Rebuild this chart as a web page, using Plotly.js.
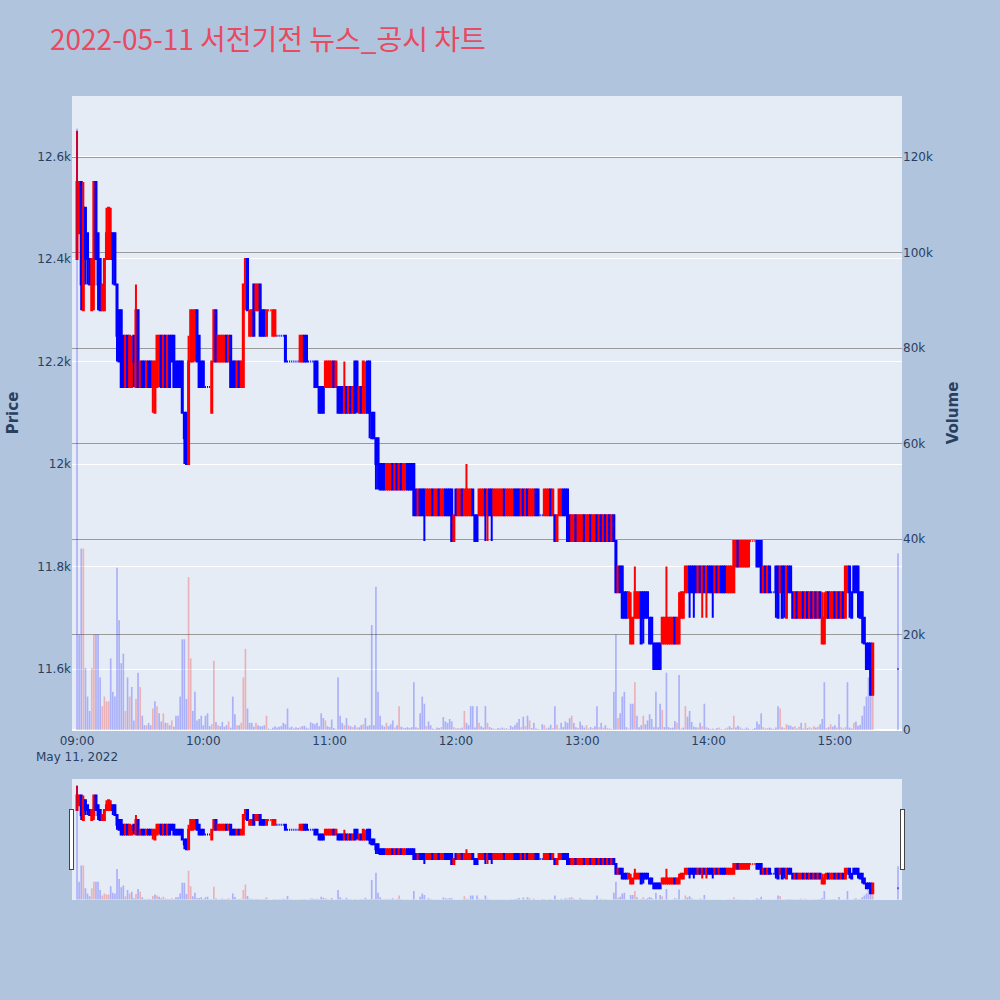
<!DOCTYPE html>
<html>
<head>
<meta charset="utf-8">
<script src="https://cdn.plot.ly/plotly-3.0.1.min.js"></script>
<style>
  html, body { margin: 0; padding: 0; background: #B0C4DE; }
  #chart { width: 1000px; height: 1000px; }
</style>
</head>
<body>
<div id="chart"></div>
<script>
// 1-minute bars for 2022-05-11, plus the 15:30 closing auction
const tradeDate = '2022-05-11';

const minutes = [
  '09:00','09:01','09:02','09:03','09:04','09:05','09:06','09:07','09:08','09:09',
  '09:10','09:11','09:12','09:13','09:14','09:15','09:16','09:17','09:18','09:19',
  '09:20','09:21','09:22','09:23','09:24','09:25','09:26','09:27','09:28','09:29',
  '09:30','09:31','09:32','09:33','09:34','09:35','09:36','09:37','09:38','09:39',
  '09:40','09:41','09:42','09:43','09:44','09:45','09:46','09:47','09:48','09:49',
  '09:50','09:51','09:52','09:53','09:54','09:55','09:56','09:57','09:58','09:59',
  '10:00','10:01','10:02','10:03','10:04','10:05','10:06','10:07','10:08','10:09',
  '10:10','10:11','10:12','10:13','10:14','10:15','10:16','10:17','10:18','10:19',
  '10:20','10:21','10:22','10:23','10:24','10:25','10:26','10:27','10:28','10:29',
  '10:30','10:31','10:32','10:33','10:34','10:35','10:36','10:37','10:38','10:39',
  '10:40','10:41','10:42','10:43','10:44','10:45','10:46','10:47','10:48','10:49',
  '10:50','10:51','10:52','10:53','10:54','10:55','10:56','10:57','10:58','10:59',
  '11:00','11:01','11:02','11:03','11:04','11:05','11:06','11:07','11:08','11:09',
  '11:10','11:11','11:12','11:13','11:14','11:15','11:16','11:17','11:18','11:19',
  '11:20','11:21','11:22','11:23','11:24','11:25','11:26','11:27','11:28','11:29',
  '11:30','11:31','11:32','11:33','11:34','11:35','11:36','11:37','11:38','11:39',
  '11:40','11:41','11:42','11:43','11:44','11:45','11:46','11:47','11:48','11:49',
  '11:50','11:51','11:52','11:53','11:54','11:55','11:56','11:57','11:58','11:59',
  '12:00','12:01','12:02','12:03','12:04','12:05','12:06','12:07','12:08','12:09',
  '12:10','12:11','12:12','12:13','12:14','12:15','12:16','12:17','12:18','12:19',
  '12:20','12:21','12:22','12:23','12:24','12:25','12:26','12:27','12:28','12:29',
  '12:30','12:31','12:32','12:33','12:34','12:35','12:36','12:37','12:38','12:39',
  '12:40','12:41','12:42','12:43','12:44','12:45','12:46','12:47','12:48','12:49',
  '12:50','12:51','12:52','12:53','12:54','12:55','12:56','12:57','12:58','12:59',
  '13:00','13:01','13:02','13:03','13:04','13:05','13:06','13:07','13:08','13:09',
  '13:10','13:11','13:12','13:13','13:14','13:15','13:16','13:17','13:18','13:19',
  '13:20','13:21','13:22','13:23','13:24','13:25','13:26','13:27','13:28','13:29',
  '13:30','13:31','13:32','13:33','13:34','13:35','13:36','13:37','13:38','13:39',
  '13:40','13:41','13:42','13:43','13:44','13:45','13:46','13:47','13:48','13:49',
  '13:50','13:51','13:52','13:53','13:54','13:55','13:56','13:57','13:58','13:59',
  '14:00','14:01','14:02','14:03','14:04','14:05','14:06','14:07','14:08','14:09',
  '14:10','14:11','14:12','14:13','14:14','14:15','14:16','14:17','14:18','14:19',
  '14:20','14:21','14:22','14:23','14:24','14:25','14:26','14:27','14:28','14:29',
  '14:30','14:31','14:32','14:33','14:34','14:35','14:36','14:37','14:38','14:39',
  '14:40','14:41','14:42','14:43','14:44','14:45','14:46','14:47','14:48','14:49',
  '14:50','14:51','14:52','14:53','14:54','14:55','14:56','14:57','14:58','14:59',
  '15:00','15:01','15:02','15:03','15:04','15:05','15:06','15:07','15:08','15:09',
  '15:10','15:11','15:12','15:13','15:14','15:15','15:16','15:17','15:18',
  '15:30'
];

const openPx = [
  12400,12450,12550,12300,12500,12450,12400,12300,12350,12550,
  12450,12400,12300,12300,12400,12400,12400,12450,12450,12350,
  12300,12300,12250,12150,12250,12150,12150,12250,12150,12300,
  12150,12200,12200,12150,12200,12200,12150,12100,12150,12200,
  12250,12150,12250,12150,12250,12250,12250,12200,12200,12200,
  12200,12100,12100,12000,12200,12200,12250,12300,12250,12200,
  12200,12150,12150,12150,12100,12200,12300,12200,12200,12200,
  12200,12250,12200,12250,12200,12200,12150,12200,12150,12150,
  12350,12400,12250,12250,12350,12300,12300,12350,12300,12300,
  12250,12300,12300,12250,12250,12250,12250,12250,12250,12250,
  12200,12200,12200,12200,12200,12200,12200,12200,12250,12250,
  12200,12200,12200,12200,12200,12150,12150,12150,12150,12150,
  12150,12150,12200,12150,12150,12150,12150,12100,12150,12100,
  12150,12100,12200,12200,12100,12150,12100,12100,12200,12200,
  12100,12100,12050,12050,12000,12000,12000,11950,11950,11950,
  12000,11950,12000,11950,12000,11950,11950,12000,12000,12000,
  12000,11950,11900,11950,11950,11950,11900,11900,11900,11950,
  11900,11900,11950,11900,11900,11950,11950,11950,11950,11850,
  11950,11900,11900,11950,11900,11900,11900,11900,11950,11900,
  11900,11900,11900,11900,11950,11900,11950,11950,11900,11900,
  11900,11900,11900,11950,11900,11900,11900,11900,11950,11950,
  11950,11900,11950,11900,11950,11900,11900,11900,11950,11950,
  11900,11900,11900,11900,11900,11950,11900,11900,11850,11900,
  11900,11950,11950,11950,11900,11850,11850,11900,11850,11850,
  11850,11900,11850,11850,11900,11850,11850,11900,11850,11900,
  11850,11900,11850,11900,11850,11900,11850,11750,11800,11800,
  11750,11750,11700,11650,11650,11700,11700,11700,11750,11750,
  11750,11750,11700,11700,11650,11650,11650,11650,11650,11650,
  11650,11650,11650,11650,11700,11650,11650,11700,11700,11750,
  11750,11800,11800,11800,11800,11750,11800,11750,11800,11750,
  11800,11800,11800,11750,11800,11750,11800,11800,11800,11750,
  11750,11750,11750,11800,11850,11800,11800,11800,11800,11800,
  11850,11850,11850,11850,11850,11850,11750,11800,11750,11800,
  11750,11750,11800,11800,11750,11800,11800,11700,11800,11800,
  11750,11700,11750,11700,11700,11750,11700,11750,11700,11750,
  11700,11750,11700,11750,11650,11650,11700,11750,11700,11700,
  11750,11700,11750,11700,11750,11700,11750,11800,11750,11800,
  11800,11800,11750,11750,11700,11650,11650,11650,11550,
  11600
];

const highPx = [
  12650,12550,12550,12550,12500,12450,12400,12400,12550,12550,
  12450,12400,12350,12400,12500,12500,12500,12450,12450,12350,
  12300,12300,12250,12250,12250,12250,12250,12250,12350,12300,
  12200,12200,12200,12200,12200,12200,12200,12200,12250,12250,
  12250,12250,12250,12250,12250,12250,12250,12200,12200,12200,
  12200,12100,12100,12250,12300,12300,12300,12300,12250,12200,
  12200,12150,12150,12150,12200,12300,12300,12250,12250,12250,
  12250,12250,12250,12250,12200,12200,12200,12200,12200,12350,
  12400,12400,12300,12300,12350,12350,12350,12350,12300,12300,
  12300,12300,12300,12300,12300,12250,12250,12250,12250,12250,
  12200,12200,12200,12200,12200,12200,12250,12250,12250,12250,
  12200,12200,12200,12200,12200,12150,12150,12150,12200,12200,
  12200,12200,12200,12200,12150,12150,12150,12200,12150,12150,
  12150,12150,12200,12200,12150,12150,12200,12200,12200,12200,
  12100,12100,12050,12050,12000,12000,12000,12000,12000,12000,
  12000,12000,12000,12000,12000,12000,12000,12000,12000,12000,
  12000,11950,11950,11950,11950,11950,11950,11950,11950,11950,
  11950,11950,11950,11950,11950,11950,11950,11950,11950,11900,
  11950,11950,11950,11950,11950,12000,11950,11950,11950,11900,
  11900,11950,11950,11950,11950,11950,11950,11950,11950,11950,
  11950,11950,11950,11950,11950,11950,11950,11950,11950,11950,
  11950,11950,11950,11950,11950,11950,11950,11950,11950,11950,
  11900,11900,11950,11950,11950,11950,11950,11900,11900,11950,
  11950,11950,11950,11950,11900,11900,11900,11900,11900,11900,
  11900,11900,11900,11900,11900,11900,11900,11900,11900,11900,
  11900,11900,11900,11900,11900,11900,11850,11800,11800,11800,
  11750,11750,11750,11750,11700,11800,11750,11750,11750,11750,
  11750,11750,11700,11700,11650,11650,11650,11650,11700,11700,
  11800,11700,11700,11700,11700,11700,11750,11750,11750,11800,
  11800,11800,11800,11800,11800,11800,11800,11800,11800,11800,
  11800,11800,11800,11800,11800,11800,11800,11800,11800,11800,
  11800,11800,11850,11850,11850,11850,11850,11850,11850,11850,
  11850,11850,11850,11850,11850,11850,11800,11800,11800,11800,
  11750,11750,11800,11800,11800,11800,11800,11800,11800,11800,
  11750,11750,11750,11750,11750,11750,11750,11750,11750,11750,
  11750,11750,11750,11750,11750,11750,11750,11750,11750,11750,
  11750,11750,11750,11750,11750,11800,11800,11800,11750,11800,
  11800,11800,11750,11750,11700,11650,11650,11650,11650,
  11600
];

const lowPx = [
  12400,12450,12300,12300,12350,12350,12350,12300,12300,12400,
  12300,12300,12300,12300,12400,12400,12400,12350,12350,12200,
  12200,12150,12150,12150,12150,12150,12150,12150,12150,12150,
  12150,12150,12150,12150,12150,12150,12100,12100,12150,12150,
  12150,12150,12150,12150,12150,12200,12150,12150,12150,12150,
  12100,12000,12000,12000,12200,12200,12200,12200,12150,12150,
  12150,12150,12150,12150,12100,12200,12200,12200,12200,12200,
  12200,12200,12200,12150,12150,12150,12150,12150,12150,12150,
  12300,12300,12250,12250,12250,12300,12300,12250,12250,12250,
  12250,12300,12300,12250,12250,12250,12250,12250,12250,12200,
  12200,12200,12200,12200,12200,12200,12200,12200,12200,12200,
  12200,12200,12200,12150,12150,12100,12100,12100,12150,12150,
  12150,12150,12150,12150,12100,12100,12100,12100,12100,12100,
  12100,12100,12100,12100,12100,12100,12100,12100,12100,12050,
  12050,12050,11950,11950,11950,11950,11950,11950,11950,11950,
  11950,11950,11950,11950,11950,11950,11950,11950,11950,11950,
  11900,11900,11900,11900,11900,11850,11900,11900,11900,11900,
  11900,11900,11900,11900,11900,11900,11900,11900,11850,11850,
  11900,11900,11900,11900,11900,11900,11900,11900,11900,11850,
  11850,11900,11900,11900,11850,11850,11900,11850,11900,11900,
  11900,11900,11900,11900,11900,11900,11900,11900,11900,11900,
  11900,11900,11900,11900,11900,11900,11900,11900,11900,11900,
  11900,11900,11900,11900,11900,11900,11900,11850,11850,11900,
  11900,11900,11900,11850,11850,11850,11850,11850,11850,11850,
  11850,11850,11850,11850,11850,11850,11850,11850,11850,11850,
  11850,11850,11850,11850,11850,11850,11750,11750,11750,11700,
  11700,11700,11700,11650,11650,11700,11700,11700,11650,11650,
  11700,11700,11650,11650,11600,11600,11600,11600,11650,11650,
  11650,11650,11650,11650,11650,11650,11650,11700,11700,11750,
  11750,11700,11750,11700,11750,11750,11750,11700,11750,11700,
  11750,11750,11700,11750,11750,11750,11750,11750,11750,11750,
  11750,11750,11750,11800,11800,11800,11800,11800,11800,11800,
  11850,11850,11850,11800,11800,11750,11750,11750,11750,11750,
  11750,11750,11700,11700,11750,11700,11700,11700,11750,11750,
  11700,11700,11700,11700,11700,11700,11700,11700,11700,11700,
  11700,11700,11700,11700,11650,11650,11700,11700,11700,11700,
  11700,11700,11700,11700,11700,11700,11750,11700,11700,11750,
  11750,11700,11700,11650,11650,11600,11600,11550,11550,
  11600
];

const closePx = [
  12550,12550,12350,12500,12400,12400,12350,12400,12550,12400,
  12350,12300,12350,12400,12450,12500,12450,12400,12350,12250,
  12200,12150,12150,12250,12150,12250,12200,12200,12300,12150,
  12200,12150,12150,12200,12150,12150,12200,12200,12250,12250,
  12150,12250,12150,12250,12150,12200,12150,12150,12150,12150,
  12100,12050,12000,12200,12300,12300,12300,12200,12150,12150,
  12150,12150,12150,12150,12200,12300,12200,12250,12250,12250,
  12250,12200,12250,12150,12150,12150,12200,12150,12200,12350,
  12400,12300,12300,12300,12250,12350,12350,12250,12250,12250,
  12300,12300,12300,12300,12300,12250,12250,12250,12250,12200,
  12200,12200,12200,12200,12200,12200,12250,12250,12200,12200,
  12200,12200,12200,12150,12150,12100,12100,12100,12200,12200,
  12200,12200,12150,12200,12100,12100,12100,12150,12100,12150,
  12100,12150,12100,12150,12150,12100,12200,12150,12100,12100,
  12050,12050,12000,12000,11950,11950,11950,12000,12000,12000,
  11950,12000,11950,12000,11950,12000,12000,11950,11950,11950,
  11900,11900,11950,11900,11900,11900,11950,11950,11950,11900,
  11950,11950,11900,11950,11950,11900,11900,11900,11850,11900,
  11900,11950,11950,11900,11950,11950,11950,11950,11900,11850,
  11850,11950,11950,11950,11900,11950,11900,11900,11950,11950,
  11950,11950,11950,11900,11950,11950,11950,11950,11900,11900,
  11900,11950,11900,11950,11900,11950,11950,11950,11900,11900,
  11900,11900,11950,11950,11950,11900,11950,11850,11900,11950,
  11950,11900,11900,11850,11850,11900,11900,11850,11900,11900,
  11900,11850,11900,11900,11850,11900,11900,11850,11900,11850,
  11900,11850,11900,11850,11900,11850,11750,11800,11750,11700,
  11700,11700,11750,11700,11700,11750,11750,11750,11650,11700,
  11700,11700,11650,11650,11600,11600,11600,11600,11700,11700,
  11700,11700,11700,11700,11650,11700,11700,11750,11750,11800,
  11800,11750,11750,11750,11750,11800,11750,11800,11750,11800,
  11750,11750,11750,11800,11750,11800,11750,11750,11750,11800,
  11800,11800,11850,11850,11800,11850,11850,11850,11850,11850,
  11850,11850,11850,11800,11800,11750,11800,11750,11800,11750,
  11750,11750,11750,11700,11800,11700,11750,11800,11750,11750,
  11700,11750,11700,11750,11750,11700,11750,11700,11750,11700,
  11750,11700,11750,11700,11700,11700,11750,11700,11750,11750,
  11700,11750,11700,11750,11700,11800,11800,11750,11700,11750,
  11750,11750,11700,11700,11650,11600,11600,11550,11650,
  11600
];

const volume = [
  126000,20000,38000,38000,13000,7000,4000,13000,20000,20000,
  20000,11000,5000,7000,6000,6000,15000,8000,7000,34000,
  23000,14000,16000,4000,11000,7000,9000,2000,6500,12000,
  9000,3000,1000,1000,1500,1000,4500,6000,5000,3500,
  1800,3500,1500,1500,1000,2000,700,3000,3000,7000,
  19000,19000,6500,32000,15000,4000,8000,2000,2300,3000,
  1000,3000,3500,800,1200,14500,1700,1000,800,1700,
  700,1000,1800,500,7000,3300,1000,1000,1500,11000,
  17000,4500,1500,1500,700,1500,1000,800,800,1000,
  3000,300,200,500,800,500,700,800,1500,1200,
  4500,500,700,300,600,400,600,800,900,500,
  300,1600,1400,1200,1500,800,3500,2500,2000,800,
  600,2200,400,200,11000,3000,1500,1000,2500,1000,
  800,600,1000,500,600,1000,1200,2500,800,1000,
  22000,1000,30000,8000,3000,1000,700,1500,800,1200,
  2000,500,1000,5000,700,500,400,600,400,600,
  10000,600,400,3500,7000,5500,800,1800,1000,300,
  200,500,400,600,2700,1800,1500,2300,1800,600,
  300,400,300,500,4000,1500,1000,5000,5000,500,
  5000,1500,800,500,5000,1500,600,400,300,200,
  400,300,500,300,400,200,900,600,1000,1500,
  2300,600,2800,800,3000,2000,400,1500,300,200,
  100,1200,1000,300,500,1100,400,5000,1100,300,
  1500,600,1800,1500,2500,3000,1500,600,400,1800,
  1000,500,1000,300,600,400,800,5000,600,1500,
  500,1000,400,300,200,8000,20000,2500,3500,7000,
  8000,600,300,5500,5500,10000,3000,600,1000,3000,
  1200,2000,3300,2300,600,8000,600,5500,4200,600,
  12000,600,400,500,1900,1500,11500,300,500,5000,
  2800,4000,1700,700,600,500,1500,800,5500,600,
  400,200,300,200,400,500,200,100,300,500,
  800,400,3000,500,900,600,300,200,500,300,
  100,200,400,1800,1200,3500,600,300,400,500,
  300,200,500,5000,4500,600,400,1200,1000,900,
  600,800,300,700,1500,300,1500,400,600,300,
  800,500,700,1200,2300,10000,400,600,1200,700,
  1000,500,3300,600,300,600,10000,500,300,1500,
  1800,900,1100,3000,5000,7000,11000,13000,14500,
  37000
];

const UP = 'red', DOWN = 'blue';
const UP_VOL = 'rgba(255,0,0,0.25)', DOWN_VOL = 'rgba(0,0,255,0.25)';

const x = minutes.map(t => tradeDate + ' ' + t);
// volume bars coloured by the move against the previous close
const volColors = closePx.map((c, i) => (i > 0 && c > closePx[i - 1]) ? UP_VOL : DOWN_VOL);

const xRange = [tradeDate + ' 08:57:37', tradeDate + ' 15:31:54'];

const traces = [
  {
    type: 'candlestick',
    name: '가격',
    x: x, open: openPx, high: highPx, low: lowPx, close: closePx,
    increasing: { line: { color: UP, width: 2 }, fillcolor: UP },
    decreasing: { line: { color: DOWN, width: 2 }, fillcolor: DOWN },
    yaxis: 'y',
    showlegend: false
  },
  {
    type: 'bar',
    name: '거래량',
    x: x, y: volume,
    marker: { color: volColors, line: { width: 0 } },
    yaxis: 'y2',
    showlegend: false
  }
];

const layout = {
  width: 1000, height: 1000,
  paper_bgcolor: '#B0C4DE',
  plot_bgcolor: '#E5ECF6',
  font: { family: 'DejaVu Sans, "Noto Sans CJK KR", sans-serif', size: 12, color: '#2a3f5f' },
  title: {
    text: '2022-05-11 서전기전 뉴스_공시 차트',
    font: { family: '"Noto Sans CJK KR", sans-serif', size: 28, color: '#e84a5f' },
    x: 0.05, xanchor: 'left', y: 0.96, yanchor: 'middle'
  },
  margin: { l: 72, r: 98, t: 96, b: 100 },
  showlegend: false,
  bargap: 0.2,
  xaxis: {
    type: 'date',
    range: xRange,
    showgrid: false,
    ticks: '',
    linecolor: 'white',
    rangeslider: { visible: true, thickness: 0.15, bgcolor: '#E5ECF6', range: xRange }
  },
  yaxis: {
    range: [11481, 12718],
    gridcolor: 'white',
    zeroline: false,
    ticks: '',
    title: { text: 'Price', font: { size: 15, weight: 'bold' }, standoff: 15 }
  },
  yaxis2: {
    range: [0, 132800],
    overlaying: 'y',
    side: 'right',
    gridcolor: '#9a9a9a',
    zerolinecolor: 'white',
    zerolinewidth: 2,
    ticks: '',
    title: { text: 'Volume', font: { size: 15, weight: 'bold' }, standoff: 15 }
  }
};

Plotly.newPlot('chart', traces, layout, { displayModeBar: false, responsive: false });
</script>
</body>
</html>
